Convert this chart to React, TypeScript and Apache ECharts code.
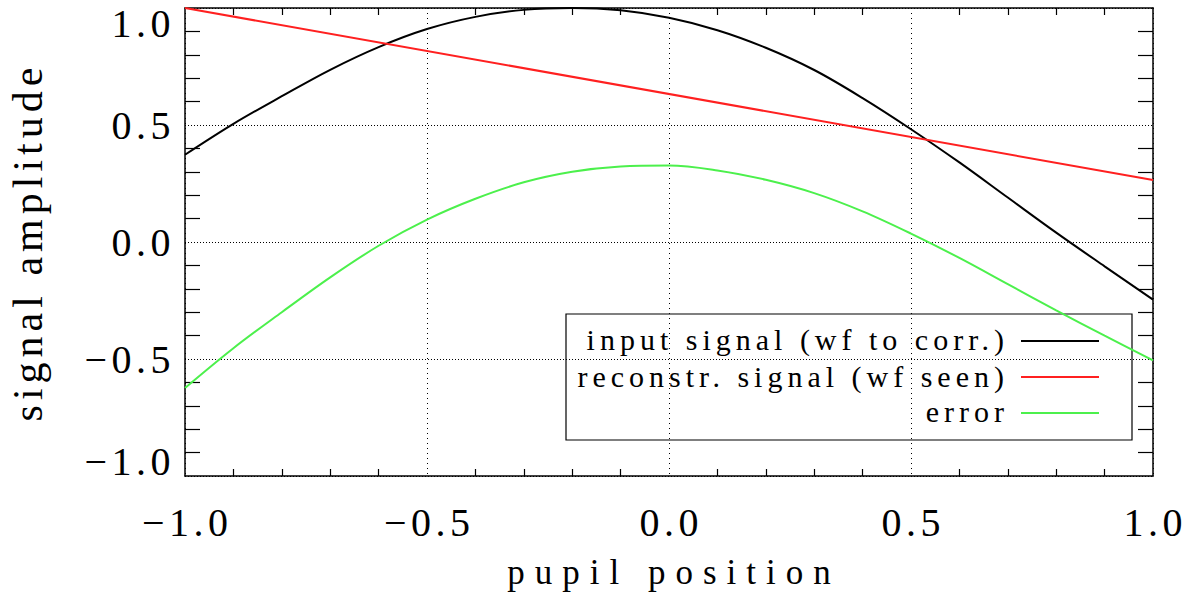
import React, { useEffect, useRef } from 'react';
import * as echarts from 'echarts';

// ---- data ----
const xPositions = [-1.0, -0.9, -0.8, -0.7, -0.6, -0.5, -0.4, -0.3, -0.2, -0.1, 0.0, 0.1, 0.2, 0.3, 0.4, 0.5, 0.6, 0.7, 0.8, 0.9, 1.0];
const inputSignal = [0.373, 0.505, 0.623, 0.736, 0.833, 0.91, 0.962, 0.992, 1.0, 0.99, 0.958, 0.905, 0.83, 0.735, 0.615, 0.482, 0.34, 0.19, 0.04, -0.104, -0.246];
const reconstrX = [-1.0, 1.0];
const reconstrSignal = [1.0, 0.265];
const errorSignal = [-0.624, -0.454, -0.3, -0.151, -0.016, 0.096, 0.185, 0.255, 0.3, 0.323, 0.327, 0.306, 0.266, 0.209, 0.131, 0.036, -0.068, -0.18, -0.292, -0.4, -0.506];

const seriesNames = ['input signal (wf to corr.)', 'reconstr. signal (wf seen)', 'error'];
const seriesColors = ['#000000', '#ff2020', '#4cf04c'];

const xTickValues = [-1.0, -0.5, 0.0, 0.5, 1.0];
const xTickLabels = ['\u22121.0', '\u22120.5', '0.0', '0.5', '1.0'];
const yTickValues = [-1.0, -0.5, 0.0, 0.5, 1.0];
const yTickLabels = ['\u22121.0', '\u22120.5', '0.0', '0.5', '1.0'];

const xAxisTitle = 'pupil position';
const yAxisTitle = 'signal amplitude';

const FONT = 'Liberation Serif';

const css = `
#chart-root text[style*="40px"] { letter-spacing: 4.5px; }
#chart-root text[style*="35px"] { letter-spacing: 10px; }
#chart-root text[style*="42px"] { letter-spacing: 5px; }
#chart-root text[style*="30px"] { letter-spacing: 5px; }
`;

function labelFor(values: number[], labels: string[]) {
  return (v: number) => {
    const i = values.findIndex((t) => Math.abs(t - v) < 1e-6);
    return i >= 0 ? labels[i] : '';
  };
}

function buildOption() {
  const gridLeft = 185;
  const gridRight = 1153;
  const legendLeft = 566;
  const legendTop = 314;
  const legendW = 566;
  const legendH = 126;
  const rowLineY = [341, 377, 413];
  const rowTextY = [339, 376, 411];

  const legendChildren: any[] = [
    {
      type: 'rect',
      shape: { x: legendLeft, y: legendTop, width: legendW, height: legendH },
      style: { fill: '#ffffff', stroke: '#000000', lineWidth: 1.2 },
    },
  ];
  seriesNames.forEach((name, i) => {
    legendChildren.push({
      type: 'text',
      x: 1009,
      y: rowTextY[i],
      style: {
        text: name,
        fill: '#000000',
        fontSize: 30,
        fontFamily: FONT,
        align: 'right',
        verticalAlign: 'middle',
      },
    });
    legendChildren.push({
      type: 'line',
      shape: { x1: 1021, y1: rowLineY[i], x2: 1099, y2: rowLineY[i] },
      style: { stroke: seriesColors[i], lineWidth: 2 },
    });
  });

  const commonX = {
    type: 'value',
    min: -1,
    max: 1,
    interval: 0.5,
    axisLine: { show: true, onZero: false, lineStyle: { color: '#000', width: 1.5 } },
    axisTick: { show: false, inside: true },
    minorTick: { show: true, splitNumber: 5, length: 7, lineStyle: { color: '#000', width: 1.2 } },
  };
  const commonY = {
    type: 'value',
    min: -1,
    max: 1,
    interval: 0.5,
    axisLine: { show: true, onZero: false, lineStyle: { color: '#000', width: 1.5 } },
    axisTick: { show: false, inside: true },
    minorTick: { show: true, splitNumber: 5, length: 15, lineStyle: { color: '#000', width: 1.2 } },
  };

  return {
    animation: false,
    backgroundColor: '#ffffff',
    textStyle: { fontFamily: FONT, color: '#000' },
    grid: { left: gridLeft, right: 1200 - gridRight, top: 8, bottom: 124, containLabel: false, outerBoundsMode: 'none' },
    xAxis: [
      {
        ...commonX,
        position: 'bottom',
        name: xAxisTitle,
        nameLocation: 'middle',
        nameGap: 79,
        nameTextStyle: { fontSize: 35, fontFamily: FONT, color: '#000', lineHeight: 35, padding: [0, 0, 0, 10] },
        axisLabel: {
          show: true,
          showMinLabel: true,
          showMaxLabel: true,
          fontSize: 40,
          lineHeight: 30,
          fontFamily: FONT,
          color: '#000',
          margin: 31,
          padding: [0, 0, 0, 4.5],
          formatter: labelFor(xTickValues, xTickLabels),
        },
        splitLine: { show: true, lineStyle: { color: '#000', width: 1, type: [1, 4] } },
      },
      {
        ...commonX,
        position: 'top',
        axisLabel: { show: false },
        splitLine: { show: false },
      },
    ],
    yAxis: [
      {
        ...commonY,
        position: 'left',
        name: yAxisTitle,
        nameLocation: 'middle',
        nameGap: 136,
        nameTextStyle: { fontSize: 42, fontFamily: FONT, color: '#000', lineHeight: 42 },
        axisLabel: {
          show: true,
          showMinLabel: true,
          showMaxLabel: true,
          fontSize: 40,
          lineHeight: 30,
          fontFamily: FONT,
          color: '#000',
          margin: 10,
          verticalAlignMaxLabel: 'top',
          verticalAlignMinLabel: 'bottom',
          formatter: labelFor(yTickValues, yTickLabels),
        },
        splitLine: { show: true, lineStyle: { color: '#000', width: 1, type: [1, 2] } },
      },
      {
        ...commonY,
        position: 'right',
        axisLabel: { show: false },
        splitLine: { show: false },
      },
    ],
    series: [
      {
        name: seriesNames[0],
        type: 'line',
        xAxisIndex: 0,
        yAxisIndex: 0,
        showSymbol: false,
        smooth: 0.35,
        data: xPositions.map((x, i) => [x, inputSignal[i]]),
        lineStyle: { color: seriesColors[0], width: 2 },
        itemStyle: { color: seriesColors[0] },
      },
      {
        name: seriesNames[1],
        type: 'line',
        xAxisIndex: 0,
        yAxisIndex: 0,
        showSymbol: false,
        data: reconstrX.map((x, i) => [x, reconstrSignal[i]]),
        lineStyle: { color: seriesColors[1], width: 2 },
        itemStyle: { color: seriesColors[1] },
      },
      {
        name: seriesNames[2],
        type: 'line',
        xAxisIndex: 0,
        yAxisIndex: 0,
        showSymbol: false,
        smooth: 0.35,
        data: xPositions.map((x, i) => [x, errorSignal[i]]),
        lineStyle: { color: seriesColors[2], width: 2 },
        itemStyle: { color: seriesColors[2] },
      },
    ],
    graphic: [
      {
        type: 'group',
        z: 100,
        children: legendChildren,
      },
    ],
  };
}

export default function App() {
  const ref = useRef<HTMLDivElement>(null);
  useEffect(() => {
    if (!ref.current) return;
    const chart = echarts.init(ref.current, null, { renderer: 'svg', width: 1200, height: 600 });
    chart.setOption(buildOption() as any);
    return () => {
      chart.dispose();
    };
  }, []);
  return (
    <div>
      <style>{css}</style>
      <div
        id="chart-root"
        ref={ref}
        style={{ position: 'absolute', left: 0, top: 0, width: 1200, height: 600, background: '#fff' }}
      />
    </div>
  );
}
